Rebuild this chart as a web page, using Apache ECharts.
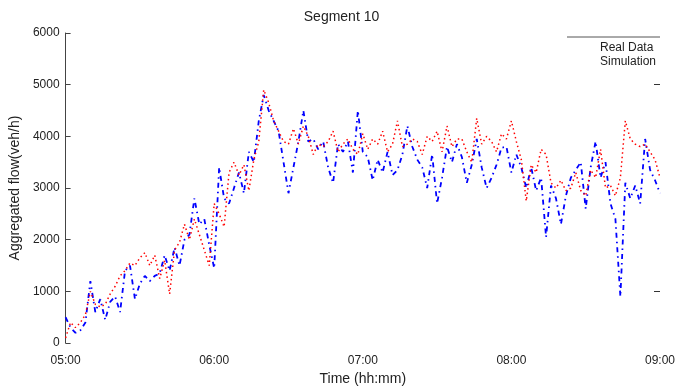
<!DOCTYPE html>
<html>
<head>
<meta charset="utf-8">
<title>Segment 10</title>
<script src="https://cdn.jsdelivr.net/npm/echarts@6/dist/echarts.min.js"></script>
<style>
  html, body { margin: 0; padding: 0; background: #ffffff; }
  #chart { width: 683px; height: 391px; }
</style>
</head>
<body>
<div id="chart"></div>
<script>
// time axis: minutes after 05:00, one sample every 2 minutes
const STEP_MIN = 2;
const tickLabels = ["05:00", "06:00", "07:00", "08:00", "09:00"];
const seriesNames = ["Real Data", "Simulation"];

// blue dash-dot line (veh/h)
const realFlow = [
  500, 300, 200, 250, 400, 1200, 600, 850, 450, 800,
  900, 600, 1400, 1500, 850, 1150, 1300, 1200, 1300, 1350,
  1700, 1400, 1850, 1500, 2000, 2100, 2800, 2300, 2400, 1900,
  1450, 3400, 2800, 2700, 3000, 3300, 2900, 3700, 3500, 4300,
  4800, 4500, 4300, 4100, 3500, 2900, 3400, 3900, 4500, 3900,
  3950, 3750, 3900, 3400, 3100, 3850, 3700, 3900, 3300, 4500,
  3700, 3600, 3150, 3550, 3300, 3700, 3250, 3350, 3650, 4200,
  3800, 3550, 3400, 3000, 3650, 2700, 3200, 3800, 3500, 3850,
  3600, 3100, 3450, 3950, 3400, 3000, 3200, 3450, 3780, 3800,
  3300, 3650, 3400, 3000, 3400, 2950, 3200, 2050, 3050, 2800,
  2300, 2850, 3200, 3350, 3500, 2600, 3400, 3900, 3200, 3500,
  2700, 2400, 900, 3100, 2800, 3050, 2700, 3950, 3350, 3150, 2900
];

// red dotted line (veh/h)
const simFlow = [
  100, 400, 300, 400, 550, 1000, 750, 700, 750, 950,
  1100, 1300, 1400, 1550, 1500, 1650, 1750, 1500, 1700, 1250,
  1600, 950, 1800, 1950, 2300, 2000, 2400, 2100, 1800, 1500,
  2700, 2500, 2250, 3300, 3500, 3250, 3450, 2950, 3550, 3900,
  4900, 4650, 4300, 4100, 3900, 3850, 4150, 3850, 4200, 4000,
  3650, 3850, 3800, 3900, 4100, 3700, 3850, 3950, 3750, 3650,
  4050, 3750, 3950, 3850, 4100, 3700, 3850, 4300, 3800, 3850,
  3950, 3900, 3650, 4000, 3900, 4100, 3700, 4200, 3800, 3950,
  3950, 3700, 3500, 4350, 3850, 4000, 3900, 3700, 4050, 3950,
  4300, 3900, 3550, 2750, 3450, 3300, 3750, 3650, 3100, 3000,
  3150, 2950, 3000, 3300, 2950, 2850, 3350, 3200, 3750, 3000,
  3050, 2850, 3200, 4300, 3950, 3850, 3800, 3850, 3700, 3550, 3200
];

const FONT = "Liberation Sans, Arial, sans-serif";
const toPairs = (arr) => arr.map((v, i) => [i * STEP_MIN, v]);

const chart = echarts.init(document.getElementById("chart"));

chart.setOption({
  animation: false,
  backgroundColor: "#ffffff",
  title: {
    text: "Segment 10",
    left: "center",
    top: 5,
    textStyle: { fontFamily: FONT, fontSize: 14, fontWeight: "normal", color: "#222" },
  },
  legend: {
    data: seriesNames,
    orient: "vertical",
    left: 588,
    top: 37,
    itemGap: 2,
    itemWidth: 2,
    itemHeight: 2,
    icon: "rect",
    itemStyle: { opacity: 0 },
    lineStyle: { opacity: 0 },
    textStyle: { fontFamily: FONT, fontSize: 12, color: "#222" },
  },
  graphic: [
    {
      type: "line",
      shape: { x1: 567, y1: 37, x2: 660, y2: 37 },
      style: { stroke: "#555", lineWidth: 1 },
    },
  ],
  grid: { left: 60, right: 23, top: 33, bottom: 42 },
  xAxis: {
    type: "value",
    min: 0,
    max: 240,
    interval: 60,
    name: "Time (hh:mm)",
    nameLocation: "middle",
    nameGap: 28,
    nameTextStyle: { fontFamily: FONT, fontSize: 14, color: "#222" },
    axisLine: { show: false },
    axisTick: { show: false },
    splitLine: { show: false },
    axisLabel: {
      fontFamily: FONT,
      fontSize: 12,
      color: "#222",
      margin: 12,
      formatter: (v) => tickLabels[Math.round(v / 60)],
    },
  },
  yAxis: [
    {
      type: "value",
      min: 0,
      max: 6000,
      interval: 1000,
      name: "Aggregated flow(veh/h)",
      nameLocation: "middle",
      nameGap: 37,
      nameTextStyle: { fontFamily: FONT, fontSize: 14, color: "#222" },
      axisLine: { show: true, lineStyle: { color: "#444", width: 1 } },
      axisTick: { show: true, inside: true, length: 5, lineStyle: { color: "#444" } },
      splitLine: { show: false },
      axisLabel: {
        fontFamily: FONT,
        fontSize: 12,
        color: "#222",
        margin: 6,
        formatter: (v) => String(v),
      },
    },
    {
      type: "value",
      position: "right",
      min: 0,
      max: 6000,
      interval: 1000,
      axisLine: { show: false },
      axisTick: {
        show: true,
        inside: true,
        length: 6,
        customValues: [1000, 5000],
        lineStyle: { color: "#333" },
      },
      axisLabel: { show: false },
      splitLine: { show: false },
    },
  ],
  series: [
    {
      name: seriesNames[0],
      type: "line",
      data: toPairs(realFlow),
      showSymbol: false,
      symbol: "none",
      color: "#0000ff",
      lineStyle: { color: "#0000ff", width: 1.8, type: [5, 4, 1.5, 4] },
    },
    {
      name: seriesNames[1],
      type: "line",
      data: toPairs(simFlow),
      showSymbol: false,
      symbol: "none",
      color: "#ff0000",
      lineStyle: { color: "#ff0000", width: 1.5, type: [1.5, 3] },
    },
  ],
});
</script>
</body>
</html>
